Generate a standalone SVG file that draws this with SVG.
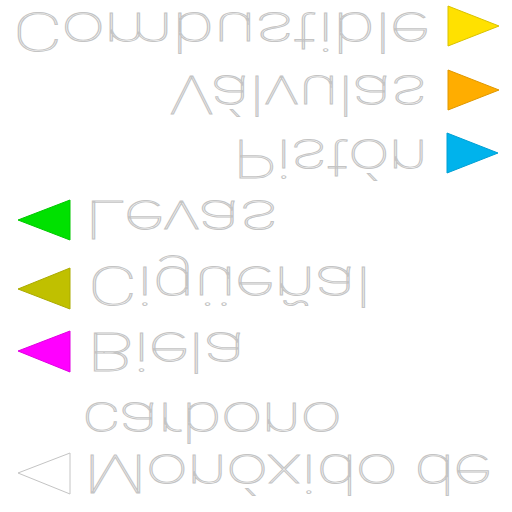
<svg xmlns="http://www.w3.org/2000/svg" width="512" height="512" viewBox="0 0 512 512">
<style>
.t{font-family:Roboto,"DejaVu Sans",sans-serif;font-weight:100;font-size:54px;fill:#ffffff;stroke:#c4c4c4;stroke-width:0.9}
.tri{stroke-width:1;stroke-linejoin:miter}
</style>
<rect width="512" height="512" fill="#ffffff"/>
<g id="combustible">
<text class="t" transform="scale(1,-1)" x="13" y="-13" textLength="416" lengthAdjust="spacingAndGlyphs">Combustible</text>
<polygon class="tri" points="448,6 499,26 448,46" fill="#FFE100" stroke="#D9C200"/>
</g>
<g id="valvulas">
<text class="t" transform="scale(1,-1)" x="170" y="-76" textLength="257" lengthAdjust="spacingAndGlyphs">Válvulas</text>
<polygon class="tri" points="448,70 499,90 448,110" fill="#FFAD00" stroke="#E09800"/>
</g>
<g id="piston">
<text class="t" transform="scale(1,-1)" x="233" y="-140" textLength="195" lengthAdjust="spacingAndGlyphs">Pistón</text>
<polygon class="tri" points="447,133 498,153 447,173" fill="#00B3EC" stroke="#00A0D4"/>
</g>
<g id="levas">
<text class="t" transform="scale(1,-1)" x="85" y="-201" textLength="193" lengthAdjust="spacingAndGlyphs">Levas</text>
<polygon class="tri" points="70,200 18,220 70,240" fill="#00E100" stroke="#00C800"/>
</g>
<g id="ciguenal">
<text class="t" transform="scale(1,-1)" x="88" y="-267" textLength="283" lengthAdjust="spacingAndGlyphs">Cigüeñal</text>
<polygon class="tri" points="70,268 18,289 70,309" fill="#C0C000" stroke="#ABAB00"/>
</g>
<g id="biela">
<text class="t" transform="scale(1,-1)" x="87" y="-333" textLength="158" lengthAdjust="spacingAndGlyphs">Biela</text>
<polygon class="tri" points="70,331 18,351 70,372" fill="#FF00FF" stroke="#E000E0"/>
</g>
<g id="monoxido">
<text class="t" transform="scale(1,-1)"><tspan x="84" y="-455" textLength="407" lengthAdjust="spacingAndGlyphs">Monóxido de</tspan><tspan x="83" y="-403" textLength="258" lengthAdjust="spacingAndGlyphs">carbono</tspan></text>
<polygon class="tri" points="70,453 18,473 70,494" fill="#FFFFFF" stroke="#C4C4C4"/>
</g>
</svg>
